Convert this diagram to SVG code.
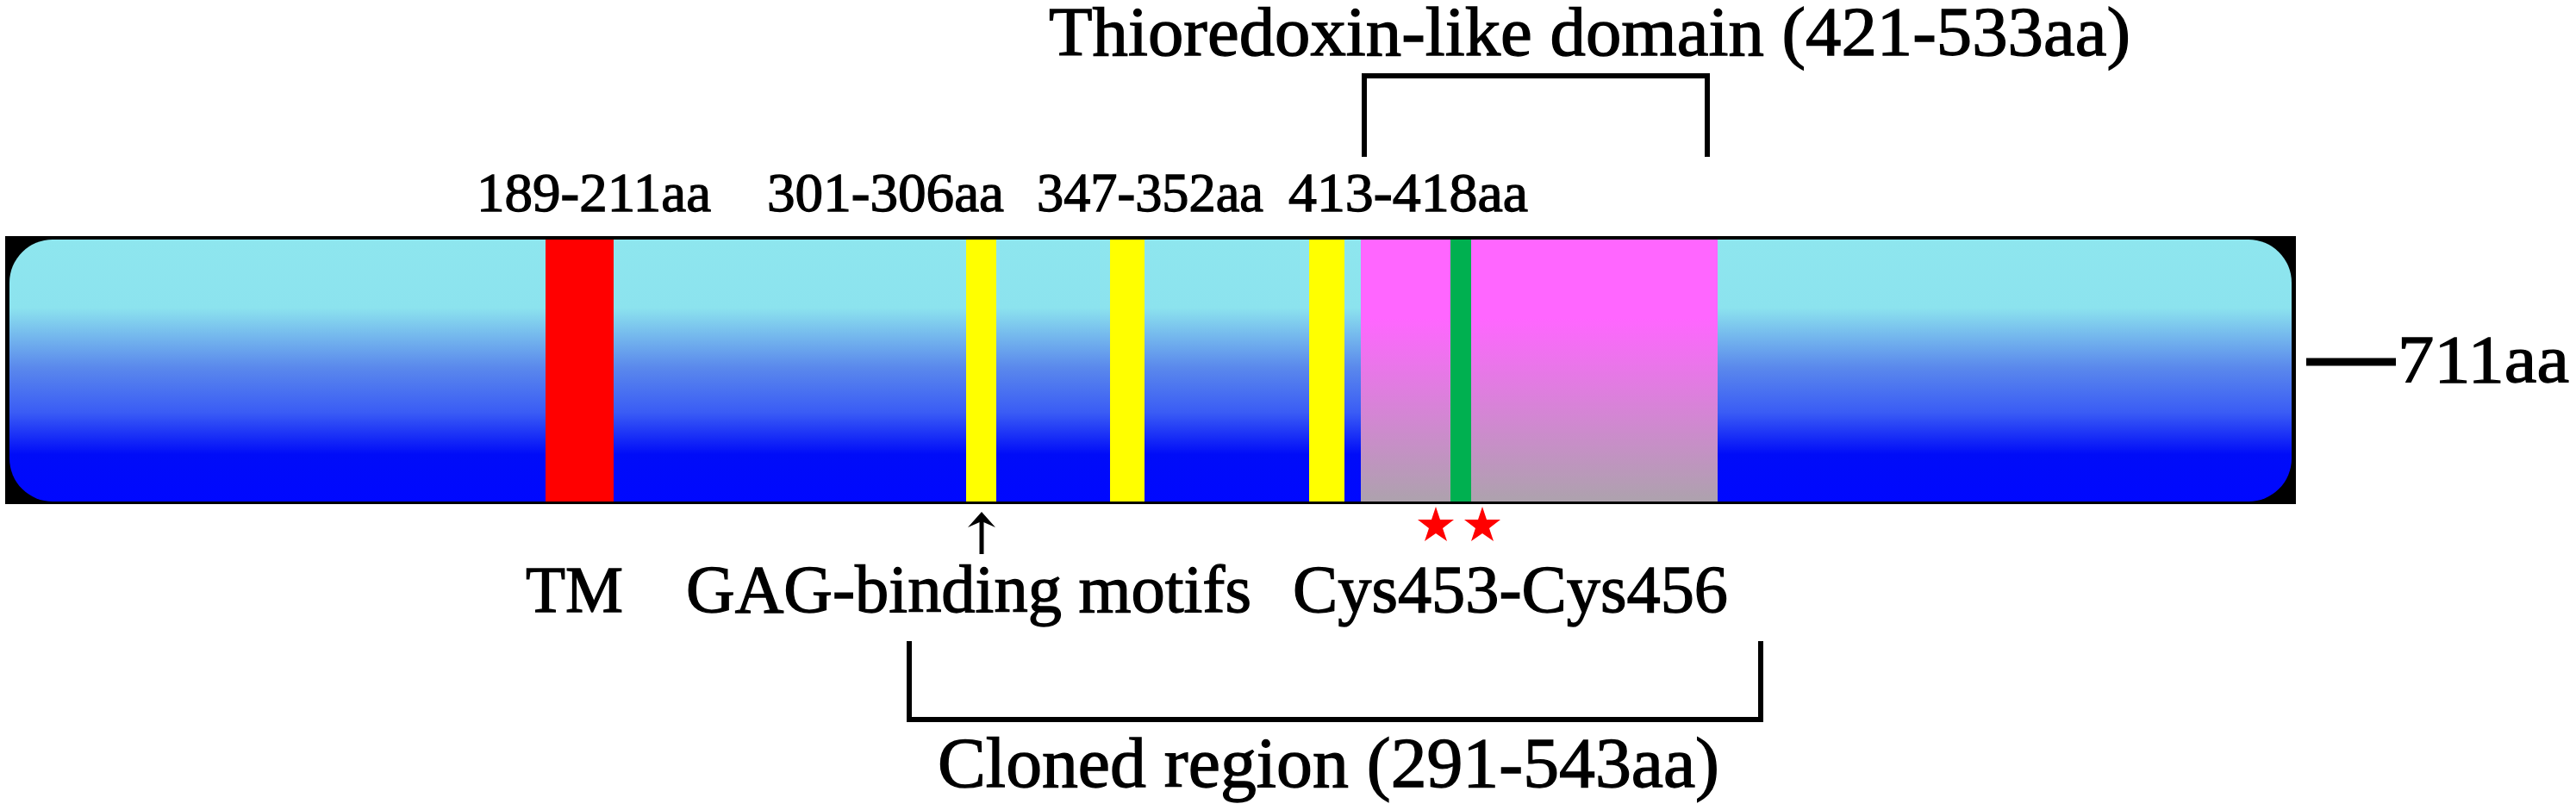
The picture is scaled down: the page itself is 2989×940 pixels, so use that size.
<svg xmlns="http://www.w3.org/2000/svg" width="2989" height="940" viewBox="0 0 2989 940">
<defs>
<linearGradient id="barGrad" x1="0" y1="0" x2="0" y2="1">
<stop offset="0" stop-color="#8EE6EE"/>
<stop offset="0.26" stop-color="#8CE3EE"/>
<stop offset="0.49" stop-color="#5A88EC"/>
<stop offset="0.66" stop-color="#3A5CF5"/>
<stop offset="0.82" stop-color="#000CF8"/>
<stop offset="1" stop-color="#0008FF"/>
</linearGradient>
<linearGradient id="pinkGrad" x1="0" y1="0" x2="0" y2="1">
<stop offset="0" stop-color="#FF66FF"/>
<stop offset="0.3" stop-color="#FF66FF"/>
<stop offset="1" stop-color="#ADA2AD"/>
</linearGradient>
</defs>
<style>
text{font-family:"Liberation Serif","Times New Roman",serif;fill:#000;stroke:#000;stroke-width:1.3}
.t64{font-size:64px}
.t78{font-size:78px}
.br{fill:none;stroke:#000;stroke-width:6}
.star{fill:#FF0000}
</style>
<rect width="2989" height="940" fill="#FFFFFF"/>
<g id="protein">
<rect x="6" y="274" width="2658" height="311" fill="#000"/>
<rect x="11" y="278" width="2648" height="304" rx="50" ry="50" fill="url(#barGrad)"/>
<rect x="633" y="278" width="79" height="304" fill="#FF0000"/>
<rect x="1121" y="278" width="35" height="304" fill="#FFFF00"/>
<rect x="1288" y="278" width="40" height="304" fill="#FFFF00"/>
<rect x="1519" y="278" width="41" height="304" fill="#FFFF00"/>
<rect x="1579" y="278" width="414" height="304" fill="url(#pinkGrad)"/>
<rect x="1683" y="278" width="24" height="304" fill="#00B050"/>
</g>
<g id="connectors">
<line x1="2676" y1="420" x2="2780" y2="420" stroke="#000" stroke-width="9"/>
<path class="br" d="M1583 182 V88 H1981 V182"/>
<path class="br" d="M1055 744 V835 H2043 V744"/>
<line x1="1139" y1="643" x2="1139" y2="605" stroke="#000" stroke-width="5"/>
<path d="M1139 594 L1155 612 L1139 605 L1123 612 Z" fill="#000"/>
</g>
<g id="stars">
<polygon class="star" points="1666,588 1671,603 1687,603 1674,613 1679,628 1666,619 1653,628 1658,613 1645,603 1661,603"/>
<polygon class="star" points="1720,588 1725,603 1741,603 1728,613 1733,628 1720,619 1707,628 1712,613 1699,603 1715,603"/>
</g>
<g id="label-title"><text x="1217" y="64" style="font-size:81px" textLength="1255" lengthAdjust="spacingAndGlyphs">Thioredoxin-like domain (421-533aa)</text></g>
<g id="label-189"><text class="t64" x="553" y="245" textLength="272" lengthAdjust="spacingAndGlyphs">189-211aa</text></g>
<g id="label-301"><text class="t64" x="890" y="245" textLength="275" lengthAdjust="spacingAndGlyphs">301-306aa</text></g>
<g id="label-347"><text class="t64" x="1203" y="245" textLength="263" lengthAdjust="spacingAndGlyphs">347-352aa</text></g>
<g id="label-413"><text class="t64" x="1495" y="245" textLength="278" lengthAdjust="spacingAndGlyphs">413-418aa</text></g>
<g id="label-711"><text x="2782" y="443" style="font-size:79px" textLength="199" lengthAdjust="spacingAndGlyphs">711aa</text></g>
<g id="label-tm"><text x="610" y="710" style="font-size:77px" textLength="113" lengthAdjust="spacingAndGlyphs">TM</text></g>
<g id="label-gag"><text class="t78" x="796" y="710" textLength="656" lengthAdjust="spacingAndGlyphs">GAG-binding motifs</text></g>
<g id="label-cys"><text class="t78" x="1500" y="710" textLength="505" lengthAdjust="spacingAndGlyphs">Cys453-Cys456</text></g>
<g id="label-cloned"><text x="1088" y="913" style="font-size:82px" textLength="907" lengthAdjust="spacingAndGlyphs">Cloned region (291-543aa)</text></g>
</svg>
